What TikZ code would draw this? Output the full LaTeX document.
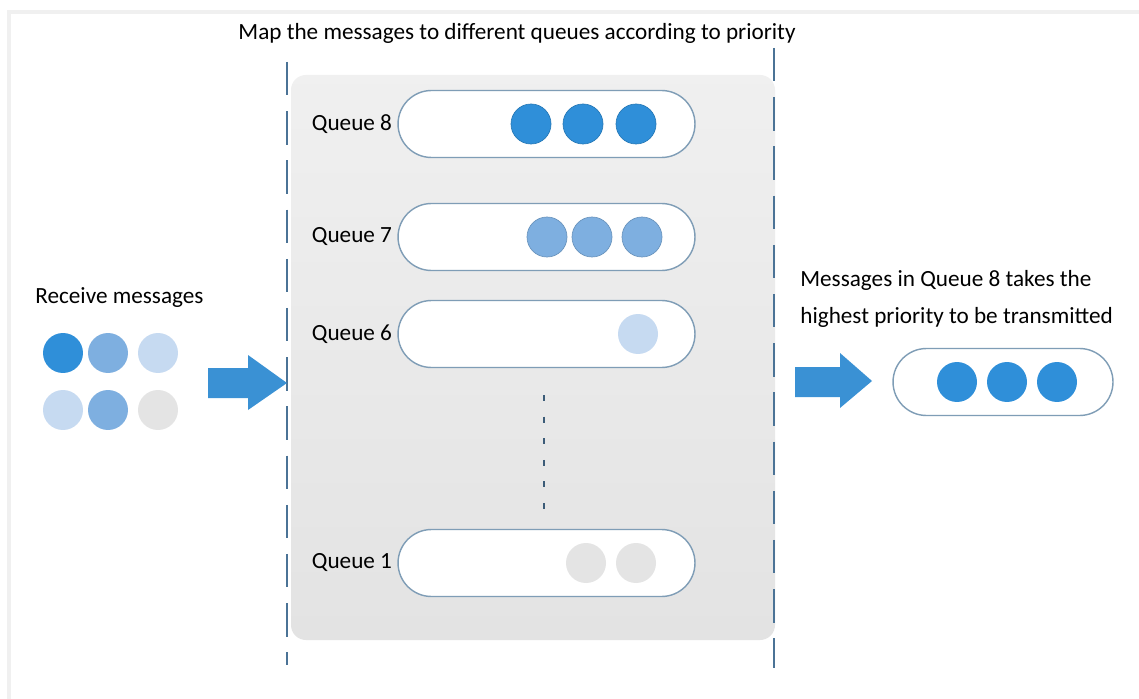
\documentclass[tikz,border=0pt]{standalone}
\usepackage{fontspec}
\setmainfont{Carlito}
\usetikzlibrary{positioning}
\definecolor{msgdark}{HTML}{2F8FD9}
\definecolor{msgmid}{HTML}{7EAFE0}
\definecolor{msglight}{HTML}{C6DAF1}
\definecolor{msggrey}{HTML}{E4E4E4}
\definecolor{arrowblue}{HTML}{3A91D4}
\definecolor{dividerblue}{HTML}{4B7396}
\definecolor{pillline}{HTML}{7F9DB6}
\tikzset{
    txt/.style={inner sep=0pt, font=\fontsize{13.2}{15}\selectfont},
    queue/.style={draw=pillline, fill=white, line width=0.8pt, rounded corners=0.67cm,
        minimum width=5.94cm, minimum height=1.34cm, inner sep=0pt},
    msg/.style={circle, inner sep=0pt, minimum size=0.8cm},
    divider/.style={dividerblue, line width=1.6pt, dash pattern=on 19pt off 9pt},
}

\begin{document}
\begin{tikzpicture}[x=0.02cm, y=-0.02cm]
                \useasboundingbox (0,0) rectangle (1139,699);
                \fill[white] (0,0) rectangle (1139,699);
                \draw[gray!12, line width=2.5pt] (9,699) -- (9,12) -- (1139,12);

                \shade[top color=black!6, bottom color=black!11, rounded corners=0.3cm]
                    (291,75) rectangle (775,640);
                \draw[divider] (287,62) -- (287,665);
                \draw[divider] (774,48) -- (774,668);
                \node[txt] (title) at (517,33) {Map the messages to different queues according to priority};

                \node[queue] (q8) at (546.5,124) {};
                \node[queue] (q7) at (546.5,237) {};
                \node[queue] (q6) at (546.5,334) {};
                \node[queue] (q1) at (546.5,563) {};
                \node[txt, left=0.1cm of q8] {Queue 8};
                \node[txt, left=0.1cm of q7] {Queue 7};
                \node[txt, left=0.1cm of q6] {Queue 6};
                \node[txt, left=0.1cm of q1] {Queue 1};

                \node[msg, fill=msgdark, draw=msgdark!85!black, thin] (q8a) at (531,124) {};
                \node[msg, fill=msgdark, draw=msgdark!85!black, thin] (q8b) at (583,124) {};
                \node[msg, fill=msgdark, draw=msgdark!85!black, thin] (q8c) at (636,124) {};
                \node[msg, fill=msgmid, draw=msgmid!85!black, thin] (q7a) at (547,237) {};
                \node[msg, fill=msgmid, draw=msgmid!85!black, thin] (q7b) at (592,237) {};
                \node[msg, fill=msgmid, draw=msgmid!85!black, thin] (q7c) at (642,237) {};
                \node[msg, fill=msglight] (q6a) at (638,334) {};
                \node[msg, fill=msggrey] (q1a) at (586,563) {};
                \node[msg, fill=msggrey] (q1b) at (636,563) {};

                \foreach \k in {0,...,5}
                    \draw[dividerblue!80!black, line width=1.6pt] (544,395+21.6*\k) -- ++(0,6);

                \node[txt, anchor=west] (recv) at (35,298) {Receive messages};
                \node[msg, fill=msgdark] (in1) at (63,353) {};
                \node[msg, fill=msgmid] (in2) at (108,353) {};
                \node[msg, fill=msglight] (in3) at (158,353) {};
                \node[msg, fill=msglight] (in4) at (63,410) {};
                \node[msg, fill=msgmid] (in5) at (108,410) {};
                \node[msg, fill=msggrey] (in6) at (158,410) {};
                \fill[arrowblue] (208,368) -- (248,368) -- (248,355) -- (287,383)
                    -- (248,410) -- (248,398) -- (208,398) -- cycle;

                \node[txt, anchor=west] (out1) at (800,280) {Messages in Queue 8 takes the};
                \node[txt, anchor=west] (out2) at (800,317) {highest priority to be transmitted};
                \fill[arrowblue] (795,367) -- (840,367) -- (840,353) -- (872,381)
                    -- (840,408) -- (840,397) -- (795,397) -- cycle;
                \node[queue, minimum width=4.4cm] (sent) at (1003,382) {};
                \node[msg, fill=msgdark] (s1) at (957,382) {};
                \node[msg, fill=msgdark] (s2) at (1007,382) {};
                \node[msg, fill=msgdark] (s3) at (1057,382) {};
            \end{tikzpicture}
\end{document}
